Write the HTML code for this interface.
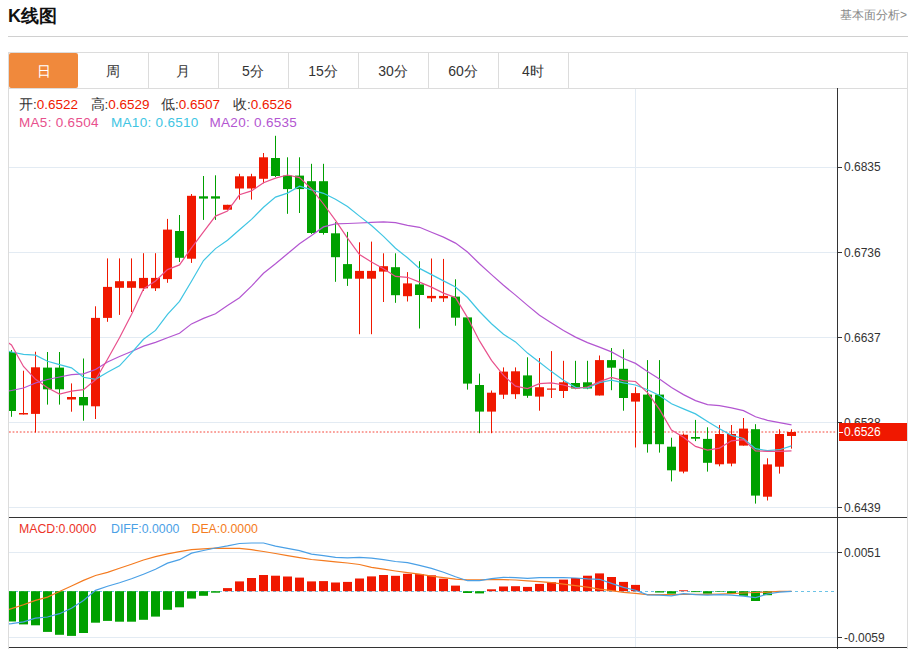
<!DOCTYPE html>
<html><head><meta charset="utf-8"><style>
html,body{margin:0;padding:0;background:#fff;}
body{width:912px;height:649px;overflow:hidden;position:relative;font-family:"Liberation Sans",sans-serif;}
.title{position:absolute;left:8px;top:5px;font-size:18px;font-weight:bold;color:#111;line-height:22px;}
.more{position:absolute;right:5px;top:7px;font-size:12px;color:#888;line-height:16px;}
.hr{position:absolute;left:8px;top:36px;width:900px;height:1px;background:#d0d0d0;}
.box{position:absolute;left:8px;top:52px;width:898px;height:596px;border:1px solid #dcdcdc;border-bottom:none;}
.tabline{position:absolute;left:8px;top:88px;width:900px;height:1px;background:#dcdcdc;}
.tab{position:absolute;top:53px;width:70px;height:35px;line-height:37px;text-align:center;font-size:14px;color:#333;}
.tab.act{left:9px!important;width:69px;background:#f0893c;color:#fff;border-radius:2px;}
.div{position:absolute;top:53px;width:1px;height:35px;background:#dcdcdc;}
.al{position:absolute;left:844px;font-size:12px;line-height:16px;color:#333;}
.lg{position:absolute;font-size:13.5px;line-height:16px;white-space:nowrap;}
svg{position:absolute;left:0;top:0;}
</style></head><body>
<div class="title">K线图</div>
<div class="more">基本面分析&gt;</div>
<div class="hr"></div>
<div class="box"></div>
<div class="tab act" style="left:8px">日</div><div class="tab" style="left:78px">周</div><div class="div" style="left:148px"></div><div class="tab" style="left:148px">月</div><div class="div" style="left:218px"></div><div class="tab" style="left:218px">5分</div><div class="div" style="left:288px"></div><div class="tab" style="left:288px">15分</div><div class="div" style="left:358px"></div><div class="tab" style="left:358px">30分</div><div class="div" style="left:428px"></div><div class="tab" style="left:428px">60分</div><div class="div" style="left:498px"></div><div class="tab" style="left:498px">4时</div><div class="div" style="left:568px"></div>
<div class="tabline"></div>
<svg width="912" height="649" viewBox="0 0 912 649"><defs><clipPath id="cp"><rect x="9" y="89" width="828" height="428"/></clipPath><clipPath id="cp2"><rect x="9" y="518" width="828" height="129"/></clipPath></defs><rect x="9" y="167" width="829" height="1" fill="#e3ebf3"/><rect x="9" y="252" width="829" height="1" fill="#e3ebf3"/><rect x="9" y="337" width="829" height="1" fill="#e3ebf3"/><rect x="9" y="422" width="829" height="1" fill="#e3ebf3"/><rect x="9" y="507" width="829" height="1" fill="#e3ebf3"/><rect x="9" y="552" width="829" height="1" fill="#e3ebf3"/><rect x="9" y="637" width="829" height="1" fill="#e3ebf3"/><rect x="635" y="89" width="1" height="558" fill="#e3ebf3"/><line x1="9" y1="432" x2="838" y2="432" stroke="#f5473a" stroke-width="1" stroke-dasharray="1.8 1.8"/><line x1="9" y1="591.5" x2="836" y2="591.5" stroke="#6cc3e6" stroke-width="1" stroke-dasharray="3 3"/><g clip-path="url(#cp)"><rect x="11" y="350.0" width="1" height="66.8" fill="#00a000"/><rect x="7" y="352.0" width="9" height="59.0" fill="#00a000"/><rect x="23" y="370.7" width="1" height="43.8" fill="#f01800"/><rect x="19" y="413.0" width="9" height="1.5" fill="#f01800"/><rect x="35" y="351.7" width="1" height="80.8" fill="#f01800"/><rect x="31" y="367.3" width="9" height="46.6" fill="#f01800"/><rect x="47" y="352.0" width="1" height="52.6" fill="#00a000"/><rect x="43" y="367.6" width="9" height="21.7" fill="#00a000"/><rect x="59" y="352.0" width="1" height="52.6" fill="#00a000"/><rect x="55" y="367.6" width="9" height="21.7" fill="#00a000"/><rect x="71" y="383.4" width="1" height="28.3" fill="#f01800"/><rect x="67" y="397.0" width="9" height="2.5" fill="#f01800"/><rect x="83" y="358.5" width="1" height="62.2" fill="#00a000"/><rect x="79" y="397.0" width="9" height="8.4" fill="#00a000"/><rect x="95" y="306.3" width="1" height="112.7" fill="#f01800"/><rect x="91" y="317.9" width="9" height="88.4" fill="#f01800"/><rect x="107" y="258.4" width="1" height="63.4" fill="#f01800"/><rect x="103" y="286.9" width="9" height="31.0" fill="#f01800"/><rect x="119" y="258.4" width="1" height="56.5" fill="#f01800"/><rect x="115" y="281.2" width="9" height="6.6" fill="#f01800"/><rect x="131" y="258.4" width="1" height="53.6" fill="#f01800"/><rect x="127" y="281.2" width="9" height="6.6" fill="#f01800"/><rect x="143" y="253.2" width="1" height="37.8" fill="#f01800"/><rect x="139" y="277.9" width="9" height="10.4" fill="#f01800"/><rect x="155" y="253.2" width="1" height="37.8" fill="#f01800"/><rect x="151" y="277.9" width="9" height="10.4" fill="#f01800"/><rect x="167" y="218.9" width="1" height="63.9" fill="#f01800"/><rect x="163" y="229.6" width="9" height="49.5" fill="#f01800"/><rect x="179" y="215.0" width="1" height="47.0" fill="#00a000"/><rect x="175" y="231.0" width="9" height="26.8" fill="#00a000"/><rect x="191" y="194.0" width="1" height="68.9" fill="#f01800"/><rect x="187" y="195.8" width="9" height="62.9" fill="#f01800"/><rect x="203" y="176.0" width="1" height="43.9" fill="#00a000"/><rect x="199" y="196.3" width="9" height="2.3" fill="#00a000"/><rect x="215" y="175.3" width="1" height="44.6" fill="#00a000"/><rect x="211" y="196.3" width="9" height="2.3" fill="#00a000"/><rect x="227" y="204.8" width="1" height="4.9" fill="#f01800"/><rect x="223" y="204.8" width="9" height="4.9" fill="#f01800"/><rect x="239" y="173.8" width="1" height="25.8" fill="#f01800"/><rect x="235" y="176.3" width="9" height="12.2" fill="#f01800"/><rect x="251" y="173.8" width="1" height="25.8" fill="#f01800"/><rect x="247" y="176.3" width="9" height="12.2" fill="#f01800"/><rect x="263" y="153.0" width="1" height="30.3" fill="#f01800"/><rect x="259" y="157.3" width="9" height="21.5" fill="#f01800"/><rect x="275" y="135.8" width="1" height="41.2" fill="#00a000"/><rect x="271" y="158.0" width="9" height="18.0" fill="#00a000"/><rect x="287" y="157.3" width="1" height="56.5" fill="#00a000"/><rect x="283" y="175.6" width="9" height="13.5" fill="#00a000"/><rect x="299" y="157.3" width="1" height="55.7" fill="#00a000"/><rect x="295" y="175.6" width="9" height="13.5" fill="#00a000"/><rect x="311" y="163.8" width="1" height="70.2" fill="#00a000"/><rect x="307" y="181.2" width="9" height="51.8" fill="#00a000"/><rect x="323" y="163.8" width="1" height="70.8" fill="#00a000"/><rect x="319" y="181.2" width="9" height="51.8" fill="#00a000"/><rect x="335" y="222.2" width="1" height="59.6" fill="#00a000"/><rect x="331" y="233.3" width="9" height="23.9" fill="#00a000"/><rect x="347" y="231.9" width="1" height="54.0" fill="#00a000"/><rect x="343" y="264.1" width="9" height="14.6" fill="#00a000"/><rect x="359" y="242.3" width="1" height="91.9" fill="#f01800"/><rect x="355" y="270.9" width="9" height="7.8" fill="#f01800"/><rect x="371" y="241.6" width="1" height="92.6" fill="#f01800"/><rect x="367" y="270.9" width="9" height="7.8" fill="#f01800"/><rect x="383" y="253.3" width="1" height="48.7" fill="#f01800"/><rect x="379" y="266.2" width="9" height="5.4" fill="#f01800"/><rect x="395" y="253.3" width="1" height="49.5" fill="#00a000"/><rect x="391" y="267.2" width="9" height="28.0" fill="#00a000"/><rect x="407" y="272.1" width="1" height="29.4" fill="#f01800"/><rect x="403" y="283.4" width="9" height="12.8" fill="#f01800"/><rect x="419" y="261.2" width="1" height="67.3" fill="#00a000"/><rect x="415" y="284.4" width="9" height="10.6" fill="#00a000"/><rect x="431" y="258.5" width="1" height="43.4" fill="#f01800"/><rect x="427" y="295.9" width="9" height="2.4" fill="#f01800"/><rect x="443" y="258.9" width="1" height="43.0" fill="#f01800"/><rect x="439" y="295.9" width="9" height="2.4" fill="#f01800"/><rect x="455" y="279.3" width="1" height="46.4" fill="#00a000"/><rect x="451" y="296.6" width="9" height="21.1" fill="#00a000"/><rect x="467" y="317.4" width="1" height="72.2" fill="#00a000"/><rect x="463" y="317.4" width="9" height="66.2" fill="#00a000"/><rect x="479" y="373.6" width="1" height="59.6" fill="#00a000"/><rect x="475" y="385.0" width="9" height="26.6" fill="#00a000"/><rect x="491" y="390.5" width="1" height="42.7" fill="#f01800"/><rect x="487" y="392.7" width="9" height="18.9" fill="#f01800"/><rect x="503" y="367.4" width="1" height="31.5" fill="#f01800"/><rect x="499" y="371.6" width="9" height="23.1" fill="#f01800"/><rect x="515" y="367.4" width="1" height="31.5" fill="#f01800"/><rect x="511" y="371.3" width="9" height="22.9" fill="#f01800"/><rect x="527" y="357.3" width="1" height="40.5" fill="#00a000"/><rect x="523" y="375.4" width="9" height="20.4" fill="#00a000"/><rect x="539" y="358.0" width="1" height="52.7" fill="#f01800"/><rect x="535" y="387.2" width="9" height="9.4" fill="#f01800"/><rect x="551" y="351.1" width="1" height="46.9" fill="#f01800"/><rect x="547" y="388.5" width="9" height="1.2" fill="#f01800"/><rect x="563" y="360.8" width="1" height="37.2" fill="#f01800"/><rect x="559" y="382.3" width="9" height="8.7" fill="#f01800"/><rect x="575" y="360.8" width="1" height="28.4" fill="#00a000"/><rect x="571" y="383.0" width="9" height="5.5" fill="#00a000"/><rect x="587" y="360.8" width="1" height="28.4" fill="#00a000"/><rect x="583" y="382.3" width="9" height="6.2" fill="#00a000"/><rect x="599" y="355.5" width="1" height="40.0" fill="#f01800"/><rect x="595" y="360.1" width="9" height="35.4" fill="#f01800"/><rect x="611" y="348.0" width="1" height="42.2" fill="#00a000"/><rect x="607" y="360.1" width="9" height="7.6" fill="#00a000"/><rect x="623" y="349.4" width="1" height="61.3" fill="#00a000"/><rect x="619" y="368.8" width="9" height="29.2" fill="#00a000"/><rect x="635" y="387.2" width="1" height="60.3" fill="#f01800"/><rect x="631" y="393.1" width="9" height="8.5" fill="#f01800"/><rect x="647" y="360.1" width="1" height="92.5" fill="#00a000"/><rect x="643" y="394.6" width="9" height="49.6" fill="#00a000"/><rect x="659" y="360.1" width="1" height="92.5" fill="#00a000"/><rect x="655" y="394.6" width="9" height="49.6" fill="#00a000"/><rect x="671" y="437.7" width="1" height="43.7" fill="#00a000"/><rect x="667" y="446.7" width="9" height="23.6" fill="#00a000"/><rect x="683" y="433.5" width="1" height="39.8" fill="#f01800"/><rect x="679" y="434.7" width="9" height="36.9" fill="#f01800"/><rect x="695" y="419.9" width="1" height="21.2" fill="#00a000"/><rect x="691" y="437.0" width="9" height="1.7" fill="#00a000"/><rect x="707" y="427.3" width="1" height="44.3" fill="#00a000"/><rect x="703" y="438.9" width="9" height="23.9" fill="#00a000"/><rect x="719" y="425.0" width="1" height="41.3" fill="#f01800"/><rect x="715" y="434.0" width="9" height="30.3" fill="#f01800"/><rect x="731" y="425.0" width="1" height="41.3" fill="#f01800"/><rect x="727" y="434.0" width="9" height="29.6" fill="#f01800"/><rect x="743" y="418.0" width="1" height="27.6" fill="#f01800"/><rect x="739" y="428.6" width="9" height="17.0" fill="#f01800"/><rect x="755" y="424.2" width="1" height="79.4" fill="#00a000"/><rect x="751" y="429.2" width="9" height="66.4" fill="#00a000"/><rect x="767" y="458.3" width="1" height="42.2" fill="#f01800"/><rect x="763" y="464.4" width="9" height="32.3" fill="#f01800"/><rect x="779" y="429.3" width="1" height="44.3" fill="#f01800"/><rect x="775" y="434.0" width="9" height="32.7" fill="#f01800"/><rect x="791" y="429.3" width="1" height="19.3" fill="#f01800"/><rect x="787" y="432.0" width="9" height="4.0" fill="#f01800"/></g><g clip-path="url(#cp)"><path d="M-0.5,392.5 L11.5,390.5 L23.5,388.0 L35.5,383.0 L47.5,379.5 L59.5,377.0 L71.5,374.7 L83.5,373.9 L95.5,369.5 L107.5,362.0 L119.5,356.5 L131.5,351.5 L143.5,346.1 L155.5,342.4 L167.5,337.8 L179.5,333.2 L191.5,323.9 L203.5,318.4 L215.5,313.8 L227.5,305.5 L239.5,297.8 L251.5,286.1 L263.5,273.3 L275.5,263.8 L287.5,253.7 L299.5,243.7 L311.5,235.5 L323.5,226.9 L335.5,223.9 L347.5,223.5 L359.5,223.0 L371.5,222.4 L383.5,221.9 L395.5,222.7 L407.5,225.4 L419.5,227.3 L431.5,232.3 L443.5,237.1 L455.5,243.1 L467.5,252.0 L479.5,263.8 L491.5,274.6 L503.5,285.3 L515.5,295.1 L527.5,305.4 L539.5,315.3 L551.5,323.1 L563.5,330.6 L575.5,337.1 L587.5,342.6 L599.5,347.1 L611.5,351.9 L623.5,358.5 L635.5,363.4 L647.5,371.5 L659.5,378.9 L671.5,387.6 L683.5,394.6 L695.5,400.6 L707.5,404.6 L719.5,405.7 L731.5,407.8 L743.5,410.6 L755.5,416.8 L767.5,420.3 L779.5,422.6 L791.5,424.8" fill="none" stroke="#b356d1" stroke-width="1.2"/><path d="M-0.5,349.5 L11.5,352.0 L23.5,354.3 L35.5,355.2 L47.5,361.3 L59.5,364.6 L71.5,367.8 L83.5,377.3 L95.5,379.3 L107.5,372.2 L119.5,365.8 L131.5,352.9 L143.5,339.3 L155.5,330.4 L167.5,314.4 L179.5,301.3 L191.5,281.2 L203.5,260.5 L215.5,248.6 L227.5,240.3 L239.5,229.8 L251.5,219.4 L263.5,207.3 L275.5,197.1 L287.5,193.1 L299.5,186.2 L311.5,189.9 L323.5,193.3 L335.5,199.2 L347.5,206.6 L359.5,216.1 L371.5,225.5 L383.5,236.4 L395.5,248.3 L407.5,257.8 L419.5,268.4 L431.5,274.6 L443.5,280.9 L455.5,287.0 L467.5,297.5 L479.5,311.5 L491.5,323.7 L503.5,334.3 L515.5,341.9 L527.5,353.1 L539.5,362.3 L551.5,371.6 L563.5,380.2 L575.5,387.3 L587.5,387.8 L599.5,382.6 L611.5,380.1 L623.5,382.8 L635.5,385.0 L647.5,389.8 L659.5,395.5 L671.5,403.7 L683.5,408.9 L695.5,413.9 L707.5,421.4 L719.5,428.8 L731.5,435.4 L743.5,438.5 L755.5,448.7 L767.5,450.7 L779.5,449.7 L791.5,445.9" fill="none" stroke="#3fc5e3" stroke-width="1.2"/><path d="M-0.5,336.0 L11.5,345.0 L23.5,366.5 L35.5,379.3 L47.5,387.8 L59.5,394.0 L71.5,391.2 L83.5,389.7 L95.5,379.8 L107.5,359.3 L119.5,337.7 L131.5,314.5 L143.5,289.0 L155.5,281.0 L167.5,269.6 L179.5,264.9 L191.5,247.8 L203.5,231.9 L215.5,216.1 L227.5,211.1 L239.5,194.8 L251.5,190.9 L263.5,182.7 L275.5,178.1 L287.5,175.0 L299.5,177.6 L311.5,188.9 L323.5,204.0 L335.5,220.3 L347.5,238.2 L359.5,254.6 L371.5,262.1 L383.5,268.8 L395.5,276.4 L407.5,277.3 L419.5,282.1 L431.5,287.1 L443.5,293.1 L455.5,297.6 L467.5,317.6 L479.5,340.9 L491.5,360.3 L503.5,375.4 L515.5,386.2 L527.5,388.6 L539.5,383.7 L551.5,382.9 L563.5,385.0 L575.5,388.5 L587.5,387.0 L599.5,381.6 L611.5,377.4 L623.5,380.6 L635.5,381.5 L647.5,392.6 L659.5,409.4 L671.5,430.0 L683.5,437.3 L695.5,446.4 L707.5,450.1 L719.5,448.1 L731.5,440.8 L743.5,439.6 L755.5,451.0 L767.5,451.3 L779.5,451.3 L791.5,450.9" fill="none" stroke="#e8508c" stroke-width="1.2"/></g><g clip-path="url(#cp2)"><rect x="7" y="591.2" width="9" height="30.3" fill="#00a000"/><rect x="19" y="591.2" width="9" height="33.2" fill="#00a000"/><rect x="31" y="591.2" width="9" height="34.1" fill="#00a000"/><rect x="43" y="591.2" width="9" height="40.7" fill="#00a000"/><rect x="55" y="591.2" width="9" height="43.6" fill="#00a000"/><rect x="67" y="591.2" width="9" height="44.7" fill="#00a000"/><rect x="79" y="591.2" width="9" height="41.8" fill="#00a000"/><rect x="91" y="591.2" width="9" height="31.5" fill="#00a000"/><rect x="103" y="591.2" width="9" height="29.7" fill="#00a000"/><rect x="115" y="591.2" width="9" height="30.5" fill="#00a000"/><rect x="127" y="591.2" width="9" height="30.5" fill="#00a000"/><rect x="139" y="591.2" width="9" height="28.6" fill="#00a000"/><rect x="151" y="591.2" width="9" height="25.4" fill="#00a000"/><rect x="163" y="591.2" width="9" height="18.6" fill="#00a000"/><rect x="175" y="591.2" width="9" height="16.1" fill="#00a000"/><rect x="187" y="591.2" width="9" height="7.4" fill="#00a000"/><rect x="199" y="591.2" width="9" height="4.6" fill="#00a000"/><rect x="211" y="591.2" width="9" height="1.5" fill="#00a000"/><rect x="223" y="588.1" width="9" height="3.1" fill="#f01800"/><rect x="235" y="581.4" width="9" height="9.8" fill="#f01800"/><rect x="247" y="578.0" width="9" height="13.2" fill="#f01800"/><rect x="259" y="575.0" width="9" height="16.2" fill="#f01800"/><rect x="271" y="575.7" width="9" height="15.5" fill="#f01800"/><rect x="283" y="576.5" width="9" height="14.7" fill="#f01800"/><rect x="295" y="577.6" width="9" height="13.6" fill="#f01800"/><rect x="307" y="581.4" width="9" height="9.8" fill="#f01800"/><rect x="319" y="581.1" width="9" height="10.1" fill="#f01800"/><rect x="331" y="582.5" width="9" height="8.7" fill="#f01800"/><rect x="343" y="581.9" width="9" height="9.3" fill="#f01800"/><rect x="355" y="578.5" width="9" height="12.7" fill="#f01800"/><rect x="367" y="576.4" width="9" height="14.8" fill="#f01800"/><rect x="379" y="575.0" width="9" height="16.2" fill="#f01800"/><rect x="391" y="575.8" width="9" height="15.4" fill="#f01800"/><rect x="403" y="573.8" width="9" height="17.4" fill="#f01800"/><rect x="415" y="574.1" width="9" height="17.1" fill="#f01800"/><rect x="427" y="575.3" width="9" height="15.9" fill="#f01800"/><rect x="439" y="578.7" width="9" height="12.5" fill="#f01800"/><rect x="451" y="585.6" width="9" height="5.6" fill="#f01800"/><rect x="463" y="591.2" width="9" height="1.8" fill="#00a000"/><rect x="475" y="591.2" width="9" height="2.2" fill="#00a000"/><rect x="487" y="589.3" width="9" height="1.9" fill="#f01800"/><rect x="499" y="586.5" width="9" height="4.7" fill="#f01800"/><rect x="511" y="586.2" width="9" height="5.0" fill="#f01800"/><rect x="523" y="586.9" width="9" height="4.3" fill="#f01800"/><rect x="535" y="583.9" width="9" height="7.3" fill="#f01800"/><rect x="547" y="582.2" width="9" height="9.0" fill="#f01800"/><rect x="559" y="579.6" width="9" height="11.6" fill="#f01800"/><rect x="571" y="578.0" width="9" height="13.2" fill="#f01800"/><rect x="583" y="575.7" width="9" height="15.5" fill="#f01800"/><rect x="595" y="573.4" width="9" height="17.8" fill="#f01800"/><rect x="607" y="577.0" width="9" height="14.2" fill="#f01800"/><rect x="619" y="581.9" width="9" height="9.3" fill="#f01800"/><rect x="631" y="584.9" width="9" height="6.3" fill="#f01800"/><rect x="655" y="591.2" width="9" height="1.3" fill="#00a000"/><rect x="667" y="591.2" width="9" height="2.5" fill="#00a000"/><rect x="679" y="590.3" width="9" height="0.9" fill="#f01800"/><rect x="691" y="591.2" width="9" height="0.9" fill="#00a000"/><rect x="703" y="591.2" width="9" height="2.5" fill="#00a000"/><rect x="715" y="591.2" width="9" height="0.6" fill="#00a000"/><rect x="727" y="591.2" width="9" height="2.5" fill="#00a000"/><rect x="739" y="591.2" width="9" height="4.6" fill="#00a000"/><rect x="751" y="591.2" width="9" height="9.8" fill="#00a000"/><rect x="763" y="591.2" width="9" height="4.0" fill="#00a000"/></g><g clip-path="url(#cp2)"><path d="M-0.5,612.0 L11.5,608.6 L23.5,604.8 L35.5,600.4 L47.5,597.1 L59.5,591.5 L71.5,586.0 L83.5,580.4 L95.5,575.5 L107.5,572.4 L119.5,568.2 L131.5,564.2 L143.5,560.0 L155.5,556.6 L167.5,553.9 L179.5,551.6 L191.5,549.7 L203.5,548.8 L215.5,548.2 L227.5,548.3 L239.5,548.4 L251.5,549.7 L263.5,551.5 L275.5,553.5 L287.5,555.6 L299.5,557.6 L311.5,559.5 L323.5,560.7 L335.5,561.9 L347.5,563.0 L359.5,564.5 L371.5,567.3 L383.5,569.2 L395.5,571.0 L407.5,572.7 L419.5,574.2 L431.5,576.1 L443.5,577.6 L455.5,579.1 L467.5,579.9 L479.5,579.9 L491.5,579.5 L503.5,579.6 L515.5,580.0 L527.5,580.8 L539.5,581.6 L551.5,582.6 L563.5,584.2 L575.5,585.7 L587.5,587.2 L599.5,589.1 L611.5,590.6 L623.5,592.4 L635.5,593.3 L647.5,594.6 L659.5,594.6 L671.5,594.6 L683.5,594.3 L695.5,594.3 L707.5,594.3 L719.5,594.0 L731.5,593.7 L743.5,593.0 L755.5,592.5 L767.5,592.1 L779.5,591.3 L791.5,591.3" fill="none" stroke="#f47b20" stroke-width="1.2"/><path d="M-0.5,624.5 L11.5,623.7 L23.5,621.9 L35.5,618.2 L47.5,617.0 L59.5,613.7 L71.5,608.2 L83.5,600.4 L95.5,590.4 L107.5,586.2 L119.5,582.8 L131.5,578.8 L143.5,574.2 L155.5,569.3 L167.5,563.1 L179.5,559.7 L191.5,553.1 L203.5,550.5 L215.5,548.0 L227.5,545.9 L239.5,543.5 L251.5,543.0 L263.5,543.0 L275.5,546.1 L287.5,548.4 L299.5,550.7 L311.5,554.1 L323.5,555.6 L335.5,557.3 L347.5,557.9 L359.5,557.3 L371.5,558.1 L383.5,559.7 L395.5,561.5 L407.5,562.7 L419.5,565.3 L431.5,568.4 L443.5,572.2 L455.5,576.8 L467.5,580.7 L479.5,580.7 L491.5,578.6 L503.5,577.3 L515.5,577.7 L527.5,578.3 L539.5,577.7 L551.5,577.6 L563.5,577.6 L575.5,578.0 L587.5,578.8 L599.5,579.3 L611.5,583.4 L623.5,587.3 L635.5,590.2 L647.5,594.9 L659.5,595.2 L671.5,595.8 L683.5,593.7 L695.5,594.6 L707.5,595.2 L719.5,594.6 L731.5,595.2 L743.5,596.1 L755.5,597.6 L767.5,594.0 L779.5,592.1 L791.5,591.3" fill="none" stroke="#4aa0e6" stroke-width="1.2"/></g><rect x="837" y="88" width="1" height="561" fill="#333"/><rect x="9" y="517" width="898" height="1" fill="#333"/><rect x="9" y="647" width="898" height="1" fill="#333"/><rect x="838" y="167" width="4" height="1" fill="#333"/><rect x="838" y="252" width="4" height="1" fill="#333"/><rect x="838" y="337" width="4" height="1" fill="#333"/><rect x="838" y="422" width="4" height="1" fill="#333"/><rect x="838" y="507" width="4" height="1" fill="#333"/><rect x="838" y="552" width="4" height="1" fill="#333"/><rect x="838" y="637" width="4" height="1" fill="#333"/></svg>
<div class="al" style="top:159px">0.6835</div><div class="al" style="top:244.5px">0.6736</div><div class="al" style="top:329.5px">0.6637</div><div class="al" style="top:414.5px">0.6538</div><div class="al" style="top:499.5px">0.6439</div><div class="al" style="top:544.5px">0.0051</div><div class="al" style="top:629.5px">-0.0059</div>
<div style="position:absolute;left:839px;top:423px;width:68px;height:18px;background:#f01800"></div><div style="position:absolute;left:839px;top:432px;width:4px;height:1px;background:#fff"></div><div class="al" style="top:424px;color:#fff">0.6526</div>
<div class="lg" style="left:19px;top:97px;color:#333">开:<span style="color:#f01800">0.6522</span></div>
<div class="lg" style="left:90.5px;top:97px;color:#333">高:<span style="color:#f01800">0.6529</span></div>
<div class="lg" style="left:161px;top:97px;color:#333">低:<span style="color:#f01800">0.6507</span></div>
<div class="lg" style="left:233px;top:97px;color:#333">收:<span style="color:#f01800">0.6526</span></div>
<div class="lg" style="letter-spacing:0.3px;left:19px;top:115px;color:#e8508c">MA5: 0.6504</div>
<div class="lg" style="letter-spacing:0.3px;left:111px;top:115px;color:#3fc5e3">MA10: 0.6510</div>
<div class="lg" style="letter-spacing:0.3px;left:209.5px;top:115px;color:#b356d1">MA20: 0.6535</div>
<div class="lg" style="font-size:12.3px;left:19px;top:521px;color:#ec3328">MACD:0.0000</div>
<div class="lg" style="font-size:12.3px;left:111px;top:521px;color:#4aa0e6">DIFF:0.0000</div>
<div class="lg" style="font-size:12.3px;left:191.5px;top:521px;color:#f47b20">DEA:0.0000</div>
</body></html>
